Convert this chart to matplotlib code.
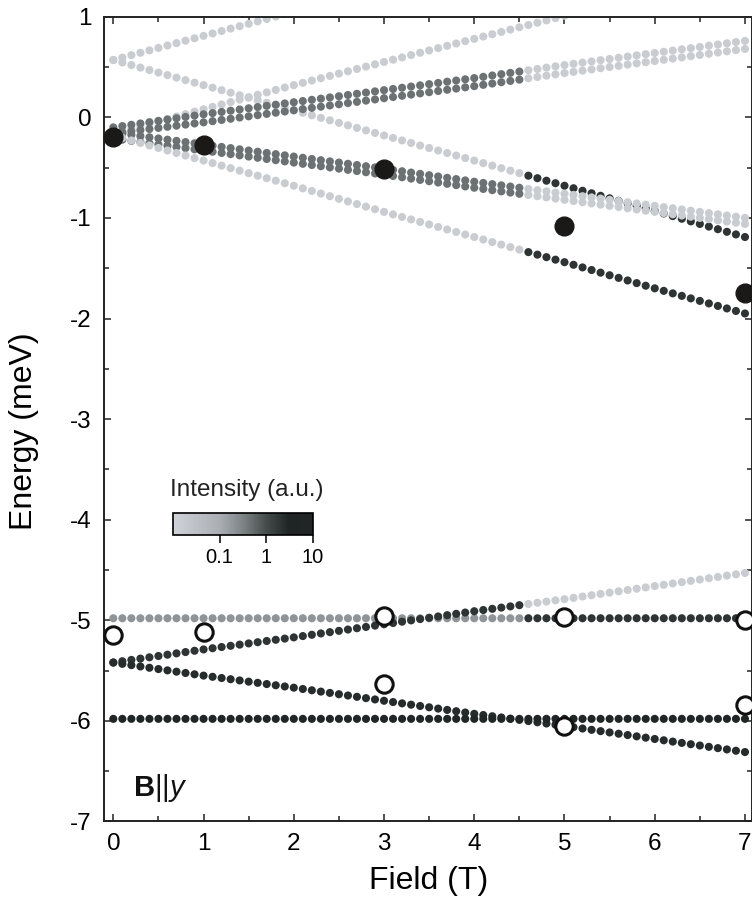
import matplotlib
matplotlib.use("Agg")
import matplotlib.pyplot as plt
import numpy as np
from matplotlib.colors import LinearSegmentedColormap, LogNorm
from matplotlib.ticker import MultipleLocator, NullLocator

plt.rcParams['font.family'] = ['Liberation Sans', 'DejaVu Sans']
plt.rcParams['axes.unicode_minus'] = False
plt.rcParams['mathtext.fontset'] = 'custom'
plt.rcParams['mathtext.rm'] = 'Liberation Sans'
plt.rcParams['mathtext.it'] = 'Liberation Sans:italic'
plt.rcParams['mathtext.bf'] = 'Liberation Sans:bold'

# calculated levels, energies (meV) read at whole-tesla fields
field_read = [0, 1, 2, 3, 4, 5, 6, 7]

upper_rise_steep = [0.57, 0.81, 1.05, 1.29, 1.53, 1.77, 2.01, 2.25]
upper_rise_cross = [-0.16, 0.08, 0.32, 0.55, 0.78, 1.01, 1.24, 1.47]
upper_fall_from_top = [0.57, 0.32, 0.07, -0.18, -0.43, -0.68, -0.93, -1.19]
upper_rise_a = [-0.10, 0.03, 0.15, 0.27, 0.39, 0.52, 0.64, 0.76]
upper_rise_b = [-0.16, -0.05, 0.07, 0.19, 0.31, 0.44, 0.56, 0.68]
upper_fall_a = [-0.15, -0.27, -0.39, -0.51, -0.64, -0.76, -0.88, -1.00]
upper_fall_b = [-0.21, -0.33, -0.45, -0.57, -0.70, -0.82, -0.94, -1.06]
upper_fall_steep = [-0.18, -0.43, -0.68, -0.94, -1.19, -1.44, -1.70, -1.95]

lower_flat_top = [-4.98, -4.98, -4.98, -4.98, -4.98, -4.98, -4.98, -4.98]
lower_rise = [-5.42, -5.29, -5.17, -5.04, -4.91, -4.79, -4.66, -4.53]
lower_fall = [-5.42, -5.55, -5.67, -5.80, -5.93, -6.05, -6.18, -6.31]
lower_flat_bottom = [-5.98, -5.98, -5.98, -5.98, -5.98, -5.98, -5.98, -5.98]

# intensity below / above the 4.5 T switch
switch_field = 4.5
levels = [
    (upper_rise_steep, 0.015, 0.015),
    (upper_rise_cross, 0.015, 0.015),
    (upper_fall_from_top, 0.015, 2.0),
    (upper_rise_a, 0.45, 0.015),
    (upper_rise_b, 0.45, 0.015),
    (upper_fall_a, 0.45, 0.015),
    (upper_fall_b, 0.45, 0.015),
    (upper_fall_steep, 0.015, 2.0),
    (lower_flat_top, 0.2, 2.0),
    (lower_rise, 2.0, 0.015),
    (lower_fall, 2.5, 2.5),
    (lower_flat_bottom, 3.0, 3.0),
]

# measured peaks
filled_field = [0, 1, 3, 5, 7]
filled_energy = [-0.20, -0.28, -0.51, -1.08, -1.75]
open_field = [0, 1, 3, 3, 5, 5, 7, 7]
open_energy = [-5.15, -5.12, -4.96, -5.63, -4.97, -6.05, -5.00, -5.84]

cmap = LinearSegmentedColormap.from_list('intensity', [
    (0.0, '#cfd3d9'), (0.33, '#abafb4'), (0.5, '#7e8386'),
    (0.67, '#454b4b'), (0.83, '#1f2424'), (1.0, '#232525')])
norm = LogNorm(0.01, 10)

fig = plt.figure(figsize=(7.52, 9.10), dpi=100)
ax = fig.add_axes([0.1387, 0.0973, 0.8613, 0.8843])

field = np.round(np.arange(0, 7.01, 0.1), 1)
for energies, lo, hi in levels:
    e = np.interp(field, field_read, energies)
    inten = np.where(field <= switch_field + 0.01, lo, hi)
    ax.scatter(field, e, c=inten, cmap=cmap, norm=norm, s=34, linewidths=0, zorder=2)

ax.plot(filled_field, filled_energy, 'o', ms=13.5, color='#1b1818', mec='#1b1818',
        zorder=4, clip_on=False)
ax.plot(open_field, open_energy, 'o', ms=12.5, mfc='white', mec='#111111', mew=2.2,
        zorder=4, clip_on=False)

ax.set_xlim(-0.1, 7.078)
ax.set_ylim(-7, 1)
ax.xaxis.set_major_locator(MultipleLocator(1))
ax.xaxis.set_minor_locator(MultipleLocator(0.5))
ax.yaxis.set_major_locator(MultipleLocator(1))
ax.yaxis.set_minor_locator(MultipleLocator(0.5))
ax.tick_params(which='both', direction='in', top=True, right=True, width=1.1,
               labelsize=17.5, color='#222222')
ax.tick_params(which='major', length=5)
ax.tick_params(which='minor', length=3.5)
ax.tick_params(axis='x', pad=8)
ax.tick_params(axis='y', pad=9)
for sp in ax.spines.values():
    sp.set_linewidth(1.4)
    sp.set_color('#222222')

ax.set_xlabel('Field (T)', fontsize=23, labelpad=8)
ax.set_ylabel('Energy (meV)', fontsize=23)
ax.yaxis.set_label_coords(-0.101, 0.485)

ax.text(0.22, -6.75, r'$\mathbf{B}||\mathit{y}$', fontsize=21, va='baseline',
        color='#111111')

# intensity colour bar
cax = fig.add_axes([0.230, 0.412, 0.186, 0.0242])
sm = plt.cm.ScalarMappable(norm=norm, cmap=cmap)
cb = fig.colorbar(sm, cax=cax, orientation='horizontal')
cb.set_ticks([0.1, 1, 10])
cb.set_ticklabels(['0.1', '1', '10'])
cax.xaxis.set_minor_locator(NullLocator())
cax.tick_params(length=6, width=1.1, labelsize=14.5, pad=3)
cb.outline.set_linewidth(1.2)
fig.text(0.328, 0.461, 'Intensity (a.u.)', fontsize=17.5, ha='center', va='center',
         color='#222222')

fig.savefig('out.png', dpi=100)
